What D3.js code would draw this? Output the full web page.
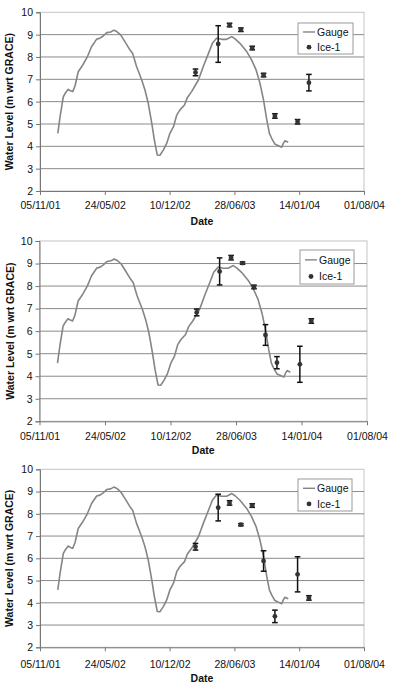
<!DOCTYPE html>
<html lang="en">
<head>
<meta charset="UTF-8">
<title>Water level</title>
<script src="https://d3js.org/d3.v7.min.js"></script>
<style>
  body { margin: 0; background: #fff; }
  text { font-family: "Liberation Sans", Arial, sans-serif; fill: #111; }
</style>
</head>
<body>
<script>
// gauge series: [days after 05/11/01, level]
var gaugeDays = [55,62,72,79,87,94,101,108,118,132,146,159,175,185,195,206,218,228,236,249,262,278,286,298,314,324,334,345,353,362,370,381,391,401,412,422,432,446,455,468,478,489,504,520,532,545,561,576,592,602,617,638,653,667,679,690,700,708,715,725,736,746,751,756,766];
var gaugeLevel = [4.58,5.33,6.22,6.4,6.55,6.49,6.45,6.7,7.34,7.64,8.0,8.46,8.8,8.84,8.94,9.09,9.12,9.2,9.15,8.99,8.69,8.31,8.16,7.57,6.97,6.52,5.93,5.03,4.28,3.61,3.6,3.84,4.13,4.58,4.88,5.4,5.63,5.85,6.19,6.45,6.7,6.97,7.57,8.16,8.61,8.84,8.79,8.79,8.91,8.81,8.61,8.24,7.87,7.42,6.82,6.07,5.18,4.58,4.36,4.1,4.03,3.96,4.13,4.25,4.18];

// Ice-1 retrievals (35 day repeat)
var iceDays = [480,550,585,620,655,690,725,795,830];
var ice1Level = [7.31,8.58,9.43,9.22,8.4,7.19,5.36,5.1,6.85];
var ice1Err   = [0.15,0.82,0.08,0.08,0.08,0.08,0.1,0.1,0.37];
var ice2Level = [6.83,8.65,9.26,9.02,7.96,5.83,4.6,4.53,6.45];
var ice2Err   = [0.15,0.6,0.1,0.05,0.08,0.46,0.27,0.8,0.1];
var ice3Level = [6.52,8.28,8.49,7.51,8.37,5.88,3.39,5.28,4.22];
var ice3Err   = [0.15,0.6,0.1,0.05,0.08,0.46,0.28,0.79,0.1];

var xTickLabels = ["05/11/01","24/05/02","10/12/02","28/06/03","14/01/04","01/08/04"];
var yTicks = [2,3,4,5,6,7,8,9,10];

var base = new Date(2001, 10, 5);
function dayDate(d) { return d3.timeDay.offset(base, d); }

var svg = d3.select('body').append('svg').attr('width', 420).attr('height', 695);

var panels = [
  {left:40, right:364, top:12.3, bottom:191, tickY:209, titleY:225, titleX:13, lev:ice1Level, err:ice1Err, leg:[298,23,55,31]},
  {left:39.5, right:367, top:241, bottom:421.3, tickY:440, titleY:454, titleX:14, lev:ice2Level, err:ice2Err, leg:[300,250,54,34]},
  {left:40, right:364, top:469.3, bottom:647.3, tickY:668, titleY:682, titleX:13, lev:ice3Level, err:ice3Err, leg:[298,479,54,32]}
];

panels.forEach(function(p) {
  var g = svg.append('g');
  var x = d3.scaleTime()
    .domain([dayDate(0), dayDate(1000)])
    .range([p.left, p.right]);
  var y = d3.scaleLinear().domain([2, 10]).range([p.bottom, p.top]);
  var tickDates = xTickLabels.map(function(s, i) { return dayDate(i * 200); });

  // frame
  g.append('rect')
    .attr('x', p.left).attr('y', p.top)
    .attr('width', p.right - p.left).attr('height', p.bottom - p.top)
    .attr('fill', 'none').attr('stroke', '#c4c4c4').attr('stroke-width', 1);

  // gridlines
  g.selectAll('.grid').data(yTicks.slice(1, -1)).enter().append('line')
    .attr('x1', p.left).attr('x2', p.right)
    .attr('y1', function(d) { return y(d); }).attr('y2', function(d) { return y(d); })
    .attr('stroke', '#8a8a8a').attr('stroke-width', 1);

  // y axis
  var ya = g.append('g').attr('transform', 'translate(' + p.left + ',0)')
    .call(d3.axisLeft(y).tickValues(yTicks).tickSize(4).tickPadding(3).tickFormat(d3.format('d')));
  ya.select('.domain').attr('stroke', '#777');
  ya.selectAll('.tick line').attr('stroke', '#777');
  ya.selectAll('text').attr('font-size', '10.5px').attr('fill', '#111');

  // x axis
  var xa = g.append('g').attr('transform', 'translate(0,' + p.bottom + ')')
    .call(d3.axisBottom(x).tickValues(tickDates).tickSize(4).tickSizeOuter(0)
      .tickFormat(function(d, i) { return xTickLabels[i]; }));
  xa.select('.domain').attr('stroke', '#777');
  xa.selectAll('.tick line').attr('stroke', '#777');
  xa.selectAll('text').attr('font-size', '10.5px').attr('fill', '#111')
    .attr('y', null).attr('dy', null)
    .attr('transform', 'translate(0,' + (p.tickY - p.bottom) + ')');

  // titles
  g.append('text').attr('x', (p.left + p.right) / 2).attr('y', p.titleY)
    .attr('text-anchor', 'middle').attr('font-size', '10.5px').attr('font-weight', 'bold')
    .text('Date');
  g.append('text')
    .attr('transform', 'translate(' + p.titleX + ',' + ((p.top + p.bottom) / 2) + ') rotate(-90)')
    .attr('text-anchor', 'middle').attr('font-size', '10.5px').attr('font-weight', 'bold')
    .text('Water Level (m wrt GRACE)');

  // gauge line
  var line = d3.line()
    .x(function(d, i) { return x(dayDate(gaugeDays[i])); })
    .y(function(d) { return y(d); });
  g.append('path').datum(gaugeLevel)
    .attr('d', line).attr('fill', 'none')
    .attr('stroke', '#858585').attr('stroke-width', 1.6).attr('stroke-linejoin', 'round');

  // ice-1 error bars
  var pts = iceDays.map(function(d, i) { return {d: d, v: p.lev[i], e: p.err[i]}; });
  var eb = g.selectAll('.eb').data(pts).enter().append('g');
  eb.append('line')
    .attr('x1', function(d) { return x(dayDate(d.d)); }).attr('x2', function(d) { return x(dayDate(d.d)); })
    .attr('y1', function(d) { return y(d.v + d.e); }).attr('y2', function(d) { return y(d.v - d.e); })
    .attr('stroke', '#111').attr('stroke-width', 1.5);
  [1, -1].forEach(function(s) {
    eb.append('line')
      .attr('x1', function(d) { return x(dayDate(d.d)) - 2.8; }).attr('x2', function(d) { return x(dayDate(d.d)) + 2.8; })
      .attr('y1', function(d) { return y(d.v + s * d.e); }).attr('y2', function(d) { return y(d.v + s * d.e); })
      .attr('stroke', '#111').attr('stroke-width', 1.5);
  });
  eb.append('circle')
    .attr('cx', function(d) { return x(dayDate(d.d)); })
    .attr('cy', function(d) { return y(d.v); })
    .attr('r', 2.4).attr('fill', '#333');

  // legend
  var L = p.leg;
  var lg = g.append('g').attr('transform', 'translate(' + L[0] + ',' + L[1] + ')');
  lg.append('rect').attr('width', L[2]).attr('height', L[3])
    .attr('fill', '#fff').attr('stroke', '#999').attr('stroke-width', 1);
  lg.append('line').attr('x1', 5).attr('x2', 17).attr('y1', L[3] * 0.29).attr('y2', L[3] * 0.29)
    .attr('stroke', '#858585').attr('stroke-width', 1.4);
  lg.append('text').attr('x', 19).attr('y', L[3] * 0.29 + 3.8).attr('font-size', '10.5px').text('Gauge');
  lg.append('circle').attr('cx', 11).attr('cy', L[3] * 0.78).attr('r', 2.4).attr('fill', '#333');
  lg.append('text').attr('x', 19).attr('y', L[3] * 0.78 + 3.8).attr('font-size', '10.5px').text('Ice-1');
});
</script>
</body>
</html>
